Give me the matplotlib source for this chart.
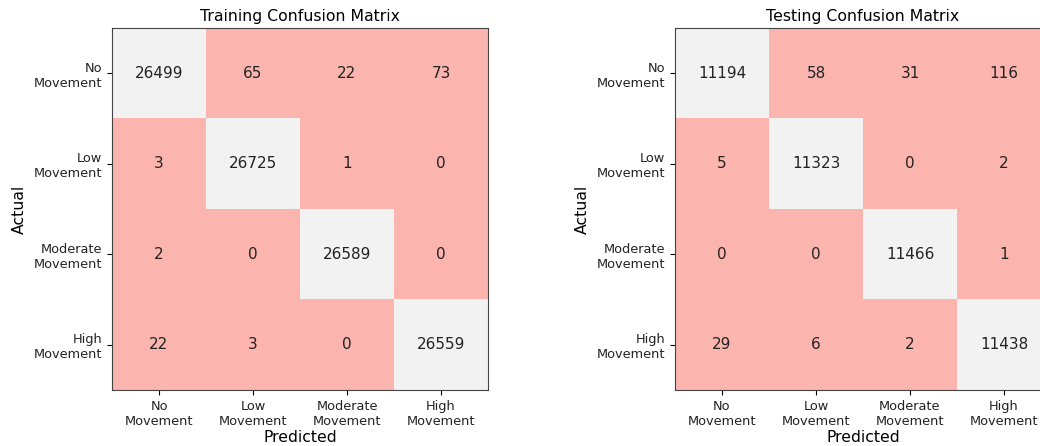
import numpy as np
import matplotlib
matplotlib.use("Agg")
import matplotlib.pyplot as plt

labels = ["No\nMovement", "Low\nMovement", "Moderate\nMovement", "High\nMovement"]
train_cm = [[26499, 65, 22, 73],
            [3, 26725, 1, 0],
            [2, 0, 26589, 0],
            [22, 3, 0, 26559]]
test_cm = [[11194, 58, 31, 116],
           [5, 11323, 0, 2],
           [0, 0, 11466, 1],
           [29, 6, 2, 11438]]
titles = ["Training Confusion Matrix", "Testing Confusion Matrix"]

W, H = 1040, 446
fig = plt.figure(figsize=(W / 100, H / 100), dpi=100)
ax_boxes = [(112, 28, 488, 390), (675, 28, 1051, 390)]

for cm, title, (x0, y0, x1, y1) in zip([train_cm, test_cm], titles, ax_boxes):
    ax = fig.add_axes([x0 / W, (H - y1) / H, (x1 - x0) / W, (y1 - y0) / H])
    arr = np.array(cm)
    ax.imshow(arr, cmap="Pastel1", aspect="auto", interpolation="nearest")
    for i in range(arr.shape[0]):
        for j in range(arr.shape[1]):
            ax.text(j, i, str(arr[i, j]), ha="center", va="center",
                    fontsize=11, color="#222222")
    ax.set_xticks(range(len(labels)))
    ax.set_yticks(range(len(labels)))
    ax.set_xticklabels(labels, fontsize=9.3, color="#222222")
    ax.set_yticklabels(labels, fontsize=9.3, color="#222222")
    ax.set_title(title, fontsize=11.3, pad=5)
    ax.set_xlabel("Predicted", fontsize=11.3, labelpad=2)
    ax.set_ylabel("Actual", fontsize=11.3, labelpad=5)
    for s in ax.spines.values():
        s.set_color("#444444")

fig.savefig("out.png", dpi=100)
